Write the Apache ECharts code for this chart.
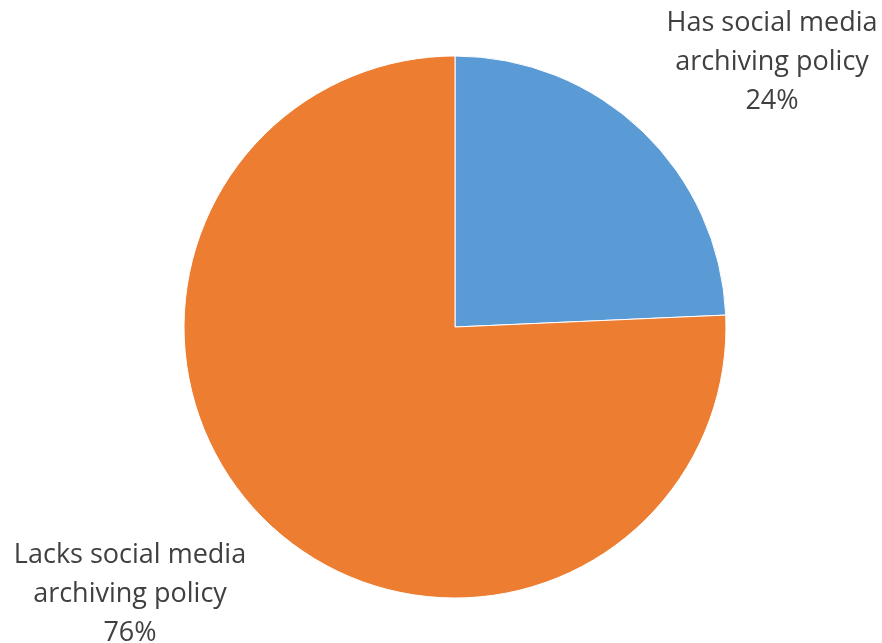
<!DOCTYPE html>
<html><head><meta charset="utf-8">
<script src="https://cdn.jsdelivr.net/npm/echarts@6/dist/echarts.min.js"></script>
<style>html,body{margin:0;padding:0;background:#fff}#c{width:882px;height:643px}</style>
</head><body><div id="c"></div>
<script>
const categories = ['Has social media\narchiving policy', 'Lacks social media\narchiving policy'];
const values = [24.3, 75.7];
const colors = ['#5B9BD5', '#ED7D31'];
const labelPos = [[772, 62], [130, 594]];

const chart = echarts.init(document.getElementById('c'), null, {renderer: 'canvas'});
chart.setOption({
  animation: false,
  series: [{
    type: 'pie',
    center: [455, 327],
    radius: 271,
    startAngle: 90,
    clockwise: true,
    data: categories.map((n, i) => ({name: n, value: values[i], itemStyle: {color: colors[i]}})),
    itemStyle: {borderColor: '#fff', borderWidth: 1},
    label: {
      show: true,
      position: 'outside',
      formatter: p => p.name + '\n' + Math.round(p.value) + '%',
      fontFamily: 'Open Sans',
      fontSize: 27,
      lineHeight: 39,
      color: '#404040',
      align: 'center',
      width: 400,
      overflow: 'none'
    },
    labelLine: {show: false},
    labelLayout: p => ({x: labelPos[p.dataIndex][0], y: labelPos[p.dataIndex][1], align: 'center', verticalAlign: 'middle'})
  }]
});
</script></body></html>
